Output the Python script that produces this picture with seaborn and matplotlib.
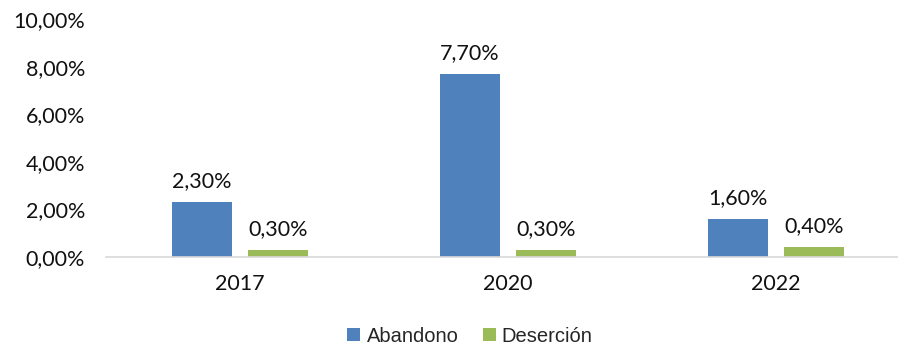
import matplotlib.pyplot as plt
import pandas as pd
import seaborn as sns

# datos del gráfico
years = ["2017", "2020", "2022"]
abandono = [2.3, 7.7, 1.6]
desercion = [0.3, 0.3, 0.4]
series_names = ["Abandono", "Deserción"]
colors = ["#4F81BD", "#9BBB59"]
yticks = [0, 2, 4, 6, 8, 10]

df = pd.DataFrame({
    "year": years * 2,
    "value": abandono + desercion,
    "serie": [series_names[0]] * 3 + [series_names[1]] * 3,
})

sns.set_theme(style="white")
plt.rcParams["font.family"] = ["Lato", "DejaVu Sans"]

fig = plt.figure(figsize=(8.98, 3.45), dpi=100)
# el eje se extiende un poco más allá del borde derecho, como en el original
ax = fig.add_axes([106 / 898, 88 / 345, 804 / 898, 238 / 345])

sns.barplot(data=df, x="year", y="value", hue="serie", palette=colors,
            saturation=1, width=0.567, gap=0.21, linewidth=0,
            ax=ax, legend=True)

# etiquetas de datos
for cont in ax.containers:
    labels = [f"{v:.2f}%".replace(".", ",") for v in cont.datavalues]
    ax.bar_label(cont, labels=labels, padding=8, fontsize=15.5, color="#111111")

ax.set_ylim(0, 10)
ax.set_xlim(-0.5, 2.5)
ax.set_yticks(yticks)
ax.set_yticklabels([f"{t:.2f}%".replace(".", ",") for t in yticks])
ax.tick_params(axis="both", labelsize=15.5, colors="#111111", length=0)
ax.tick_params(axis="x", pad=12)
ax.tick_params(axis="y", pad=15)
ax.set_xlabel("")
ax.set_ylabel("")

for side in ["left", "right", "top"]:
    ax.spines[side].set_visible(False)
ax.spines["bottom"].set_color("#D9D9D9")
ax.spines["bottom"].set_linewidth(1.2)

ax.legend(loc="center", bbox_to_anchor=(470 / 898, 9 / 345),
          bbox_transform=fig.transFigure, ncol=2,
          frameon=False, handlelength=0.65, handleheight=0.65,
          handletextpad=0.3, columnspacing=1.2,
          prop={"family": "Liberation Sans", "size": 14.5})

fig.savefig("out.png", dpi=100)
